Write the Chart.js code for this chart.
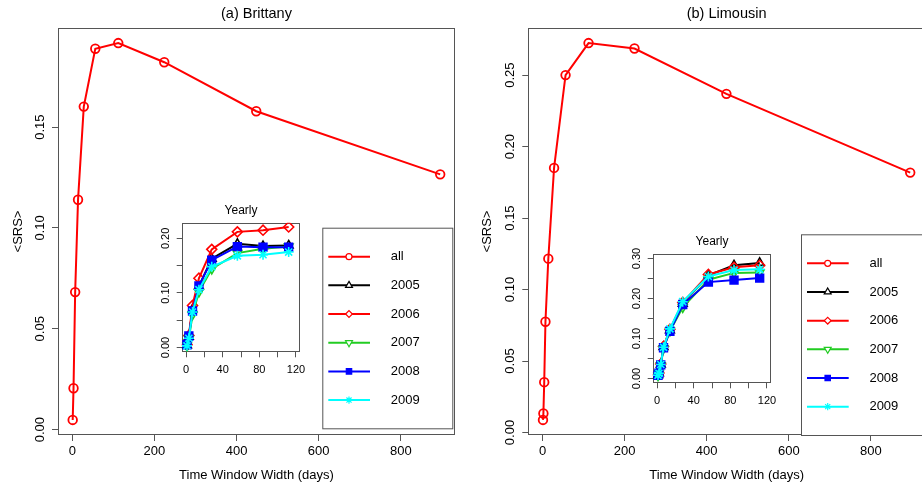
<!DOCTYPE html>
<html>
<head>
<meta charset="utf-8">
<title>Mean SRS vs time window width</title>
<script src="https://cdn.jsdelivr.net/npm/chart.js@4.4.1/dist/chart.umd.min.js"></script>
<style>
  html, body { margin: 0; padding: 0; background: #fff; }
  #page { position: relative; width: 922px; height: 486px; overflow: hidden; background: #fff; }
  .slot { position: absolute; }
  canvas { display: block; }
</style>
</head>
<body>
<div id="page">
  <div class="slot" style="left:0;top:0;width:461px;height:486px;"><canvas id="mainA" width="461" height="486"></canvas></div>
  <div class="slot" style="left:461px;top:0;width:461px;height:486px;overflow:hidden;"><canvas id="mainB" width="470" height="486"></canvas></div>
  <div class="slot" style="left:140px;top:195px;"><canvas id="insetA" width="172" height="187"></canvas></div>
  <div class="slot" style="left:611px;top:226px;"><canvas id="insetB" width="172" height="187"></canvas></div>
</div>
<script>
// ---- data: time window width (days) and mean SRS ----
const brittanyDays = [1, 3, 7, 14, 28, 56, 112, 224, 448, 896];
const brittanyAll  = [0.0048, 0.0205, 0.0682, 0.1140, 0.1602, 0.1889, 0.1917, 0.1822, 0.1579, 0.1266];

const limousinDays = [1, 2, 4, 7, 14, 28, 56, 112, 224, 448, 896];
const limousinAll  = [0.0088, 0.0133, 0.0352, 0.0775, 0.1216, 0.1851, 0.2500, 0.2724, 0.2686, 0.2369, 0.1818];

// yearly curves (inset)
const years = ['2005', '2006', '2007', '2008', '2009'];

const brittanyYearDays = [1, 3, 7, 14, 28, 56, 84, 112];
const brittany2005 = [0.004, 0.020, 0.070, 0.112, 0.163, 0.190, 0.186, 0.187];
const brittany2006 = [0.005, 0.022, 0.077, 0.127, 0.180, 0.212, 0.215, 0.221];
const brittany2007 = [0.003, 0.016, 0.060, 0.102, 0.144, 0.173, 0.181, 0.185];
const brittany2008 = [0.005, 0.021, 0.067, 0.113, 0.160, 0.185, 0.184, 0.184];
const brittany2009 = [0.003, 0.017, 0.065, 0.106, 0.148, 0.168, 0.170, 0.175];

const limousinYearDays = [1, 2, 4, 7, 14, 28, 56, 84, 112];
const limousin2005 = [0.008, 0.013, 0.035, 0.079, 0.121, 0.187, 0.258, 0.283, 0.289];
const limousin2006 = [0.009, 0.014, 0.036, 0.080, 0.123, 0.190, 0.260, 0.278, 0.283];
const limousin2007 = [0.007, 0.012, 0.033, 0.075, 0.119, 0.178, 0.247, 0.264, 0.265];
const limousin2008 = [0.008, 0.013, 0.034, 0.077, 0.118, 0.185, 0.241, 0.246, 0.251];
const limousin2009 = [0.008, 0.013, 0.035, 0.078, 0.124, 0.192, 0.255, 0.271, 0.273];

// ---- tick values and labels ----
const mainXTicks  = [0, 200, 400, 600, 800];
const mainXLabels = ['0', '200', '400', '600', '800'];
const brittanyYTicks  = [0, 0.05, 0.10, 0.15];
const brittanyYLabels = ['0.00', '0.05', '0.10', '0.15'];
const limousinYTicks  = [0, 0.05, 0.10, 0.15, 0.20, 0.25];
const limousinYLabels = ['0.00', '0.05', '0.10', '0.15', '0.20', '0.25'];

const insetXLimits = [0, 120];
const insetXTicks  = [0, 20, 40, 60, 80, 100, 120];
const insetXLabels = ['0', '', '40', '', '80', '', '120'];
const brittanyInsetYLimits = [0, 0.22];
const brittanyInsetYTicks  = [0, 0.05, 0.10, 0.15, 0.20];
const brittanyInsetYLabels = ['0.00', '', '0.10', '', '0.20'];
const limousinInsetYLimits = [0, 0.30];
const limousinInsetYTicks  = [0, 0.05, 0.10, 0.15, 0.20, 0.25, 0.30];
const limousinInsetYLabels = ['0.00', '', '0.10', '', '0.20', '', '0.30'];

// ---- styling ----
const FONT = '"Liberation Sans", Arial, Helvetica, sans-serif';
const AXIS = '#555';
const TEXT = '#000';
const NONE = 'rgba(0,0,0,0)';
const seriesLook = {
  all:  { color: '#FF0000', style: 'circle',   rotation: 0,   fill: NONE },
  2005: { color: '#000000', style: 'triangle', rotation: 0,   fill: NONE },
  2006: { color: '#FF0000', style: 'rectRot',  rotation: 0,   fill: NONE },
  2007: { color: '#22CC22', style: 'triangle', rotation: 180, fill: NONE },
  2008: { color: '#0000FF', style: 'rect',     rotation: 0,   fill: '#0000FF' },
  2009: { color: '#00FFFF', style: 'star',     rotation: 0,   fill: NONE }
};
const insetMarkerSize = { 2005: 5, 2006: 5, 2007: 5, 2008: 5.5, 2009: 5 };
const keyMarkerSize   = { all: 3, 2005: 4, 2006: 3.4, 2007: 4, 2008: 3.8, 2009: 3.6 };

Chart.defaults.font.family = FONT;
Chart.defaults.color = TEXT;

// R-style axis range: data range widened by 4% on each side
function widen(lo, hi) { const d = (hi - lo) * 0.04; return [lo - d, hi + d]; }
function points(xs, ys) { return xs.map((x, i) => ({ x: x, y: ys[i] })); }

// box around the plotting region
const framePlugin = {
  id: 'frame',
  beforeDatasetsDraw(chart) {
    const a = chart.chartArea, ctx = chart.ctx;
    ctx.save();
    ctx.strokeStyle = AXIS;
    ctx.lineWidth = 1;
    ctx.strokeRect(Math.round(a.left) + 0.5, Math.round(a.top) + 0.5,
                   Math.round(a.right) - Math.round(a.left) - 1, Math.round(a.bottom) - Math.round(a.top) - 1);
    ctx.restore();
  }
};

// series key with a line through each marker
const keyPlugin = {
  id: 'seriesKey',
  afterDraw(chart, args, o) {
    if (!o || !o.names) return;
    const ctx = chart.ctx;
    ctx.save();
    ctx.fillStyle = '#fff';
    ctx.fillRect(o.left, o.top, o.width, o.height);
    ctx.strokeStyle = AXIS;
    ctx.lineWidth = 1;
    ctx.strokeRect(o.left + 0.5, o.top + 0.5, o.width, o.height);
    o.names.forEach((name, i) => {
      const look = seriesLook[name];
      const y = o.top + o.firstRow + i * o.rowStep;
      ctx.strokeStyle = look.color;
      ctx.lineWidth = 2;
      ctx.beginPath();
      ctx.moveTo(o.left + o.lineFrom, y);
      ctx.lineTo(o.left + o.lineTo, y);
      ctx.stroke();
      ctx.fillStyle = look.fill === NONE ? '#fff' : look.fill;
      ctx.lineWidth = 1.2;
      Chart.helpers.drawPoint(ctx, { pointStyle: look.style, rotation: look.rotation,
        radius: keyMarkerSize[name], borderWidth: 1.2 }, o.left + o.markerX, y);
      ctx.fillStyle = TEXT;
      ctx.font = '13px ' + FONT;
      ctx.textAlign = 'left';
      ctx.textBaseline = 'middle';
      ctx.fillText(name, o.left + o.textX, y);
    });
    ctx.restore();
  }
};

function fixedTicks(values) {
  return function (scale) { scale.ticks = values.map(v => ({ value: v })); };
}

function mainChart(id, title, days, vals, yTicks, yLabels, yAxisWidth, yTitlePad, key) {
  const xr = widen(Math.min(...days), Math.max(...days));
  const yr = widen(Math.min(...vals), Math.max(...vals));
  const look = seriesLook.all;
  return new Chart(document.getElementById(id), {
    type: 'scatter',
    data: {
      datasets: [{
        label: 'all',
        data: points(days, vals),
        showLine: true,
        borderColor: look.color,
        borderWidth: 2,
        pointStyle: look.style,
        pointRadius: 4.3,
        pointBorderWidth: 1.8,
        pointBorderColor: look.color,
        pointBackgroundColor: NONE
      }]
    },
    options: {
      responsive: false,
      animation: false,
      events: [],
      layout: { padding: 0 },
      plugins: {
        legend: { display: false },
        tooltip: { enabled: false },
        title: { display: true, text: title, fullSize: false, color: TEXT,
                 font: { size: 14.5, weight: 'normal' }, padding: { top: 5, bottom: 5.6 } },
        seriesKey: key
      },
      scales: {
        x: {
          type: 'linear', min: xr[0], max: xr[1],
          afterBuildTicks: fixedTicks(mainXTicks),
          afterFit: s => { s.height = 51; },
          ticks: { autoSkip: false, maxRotation: 0, padding: 3, color: TEXT, font: { size: 13 },
                   callback: (v, i) => mainXLabels[i] },
          grid: { drawOnChartArea: false, tickLength: 6, color: AXIS },
          border: { display: false },
          title: { display: true, text: 'Time Window Width (days)', color: TEXT,
                   font: { size: 13 }, padding: { top: 0, bottom: 3 } }
        },
        y: {
          type: 'linear', min: yr[0], max: yr[1],
          afterBuildTicks: fixedTicks(yTicks),
          afterFit: s => { s.width = yAxisWidth; },
          ticks: { autoSkip: false, minRotation: 90, maxRotation: 90, crossAlign: 'center',
                   padding: -0.6, color: TEXT, font: { size: 13 },
                   callback: (v, i) => yLabels[i] },
          grid: { drawOnChartArea: false, tickLength: 6, color: AXIS },
          border: { display: false },
          title: { display: true, text: '<SRS>', color: TEXT, font: { size: 13 },
                   padding: { top: yTitlePad, bottom: 0 } }
        }
      }
    },
    plugins: [framePlugin, keyPlugin]
  });
}

function insetChart(id, days, seriesVals, yLimits, yTicks, yLabels) {
  const xr = widen(insetXLimits[0], insetXLimits[1]);
  const yr = widen(yLimits[0], yLimits[1]);
  const datasets = years.map((name, i) => {
    const look = seriesLook[name];
    return {
      label: name,
      data: points(days, seriesVals[i]),
      showLine: true,
      order: years.length - 1 - i,
      borderColor: look.color,
      borderWidth: 2,
      pointStyle: look.style,
      rotation: look.rotation,
      pointRadius: insetMarkerSize[name],
      pointBorderWidth: 1.6,
      pointBorderColor: look.color,
      pointBackgroundColor: look.fill
    };
  });
  return new Chart(document.getElementById(id), {
    type: 'scatter',
    data: { datasets: datasets },
    options: {
      responsive: false,
      animation: false,
      events: [],
      layout: { padding: { left: 0, top: 0, right: 0.3, bottom: 0 } },
      plugins: {
        legend: { display: false },
        tooltip: { enabled: false },
        title: { display: true, text: 'Yearly', fullSize: false, color: TEXT,
                 font: { size: 12, weight: 'normal' }, padding: { top: 8.8, bottom: 4.5 } }
      },
      scales: {
        x: {
          type: 'linear', min: xr[0], max: xr[1],
          afterBuildTicks: fixedTicks(insetXTicks),
          afterFit: s => { s.height = 29.7; },
          ticks: { autoSkip: false, maxRotation: 0, padding: 6.4, color: TEXT, font: { size: 11 },
                   callback: (v, i) => insetXLabels[i] },
          grid: { drawOnChartArea: false, tickLength: 5, color: AXIS },
          border: { display: false }
        },
        y: {
          type: 'linear', min: yr[0], max: yr[1],
          afterBuildTicks: fixedTicks(yTicks),
          afterFit: s => { s.width = 41.7; },
          ticks: { autoSkip: false, minRotation: 90, maxRotation: 90, crossAlign: 'center',
                   padding: 0.5, color: TEXT, font: { size: 11 },
                   callback: (v, i) => yLabels[i] },
          grid: { drawOnChartArea: false, tickLength: 5, color: AXIS },
          border: { display: false }
        }
      }
    },
    plugins: [framePlugin]
  });
}

const keyNames = ['all'].concat(years);
const keyLayout = { firstRow: 29, rowStep: 28.67, lineFrom: 6, lineTo: 47.7, markerX: 26.7, textX: 68.4 };

mainChart('mainA', '(a) Brittany', brittanyDays, brittanyAll, brittanyYTicks, brittanyYLabels, 58, 10.2,
  Object.assign({ names: keyNames, left: 322.3, top: 227.7, width: 130, height: 200.6 }, keyLayout));
mainChart('mainB', '(b) Limousin', limousinDays, limousinAll, limousinYTicks, limousinYLabels, 67.3, 18.2,
  Object.assign({ names: keyNames, left: 340, top: 234.3, width: 130, height: 200.7 }, keyLayout));

insetChart('insetA', brittanyYearDays,
  [brittany2005, brittany2006, brittany2007, brittany2008, brittany2009],
  brittanyInsetYLimits, brittanyInsetYTicks, brittanyInsetYLabels);
insetChart('insetB', limousinYearDays,
  [limousin2005, limousin2006, limousin2007, limousin2008, limousin2009],
  limousinInsetYLimits, limousinInsetYTicks, limousinInsetYLabels);
</script>
</body>
</html>
